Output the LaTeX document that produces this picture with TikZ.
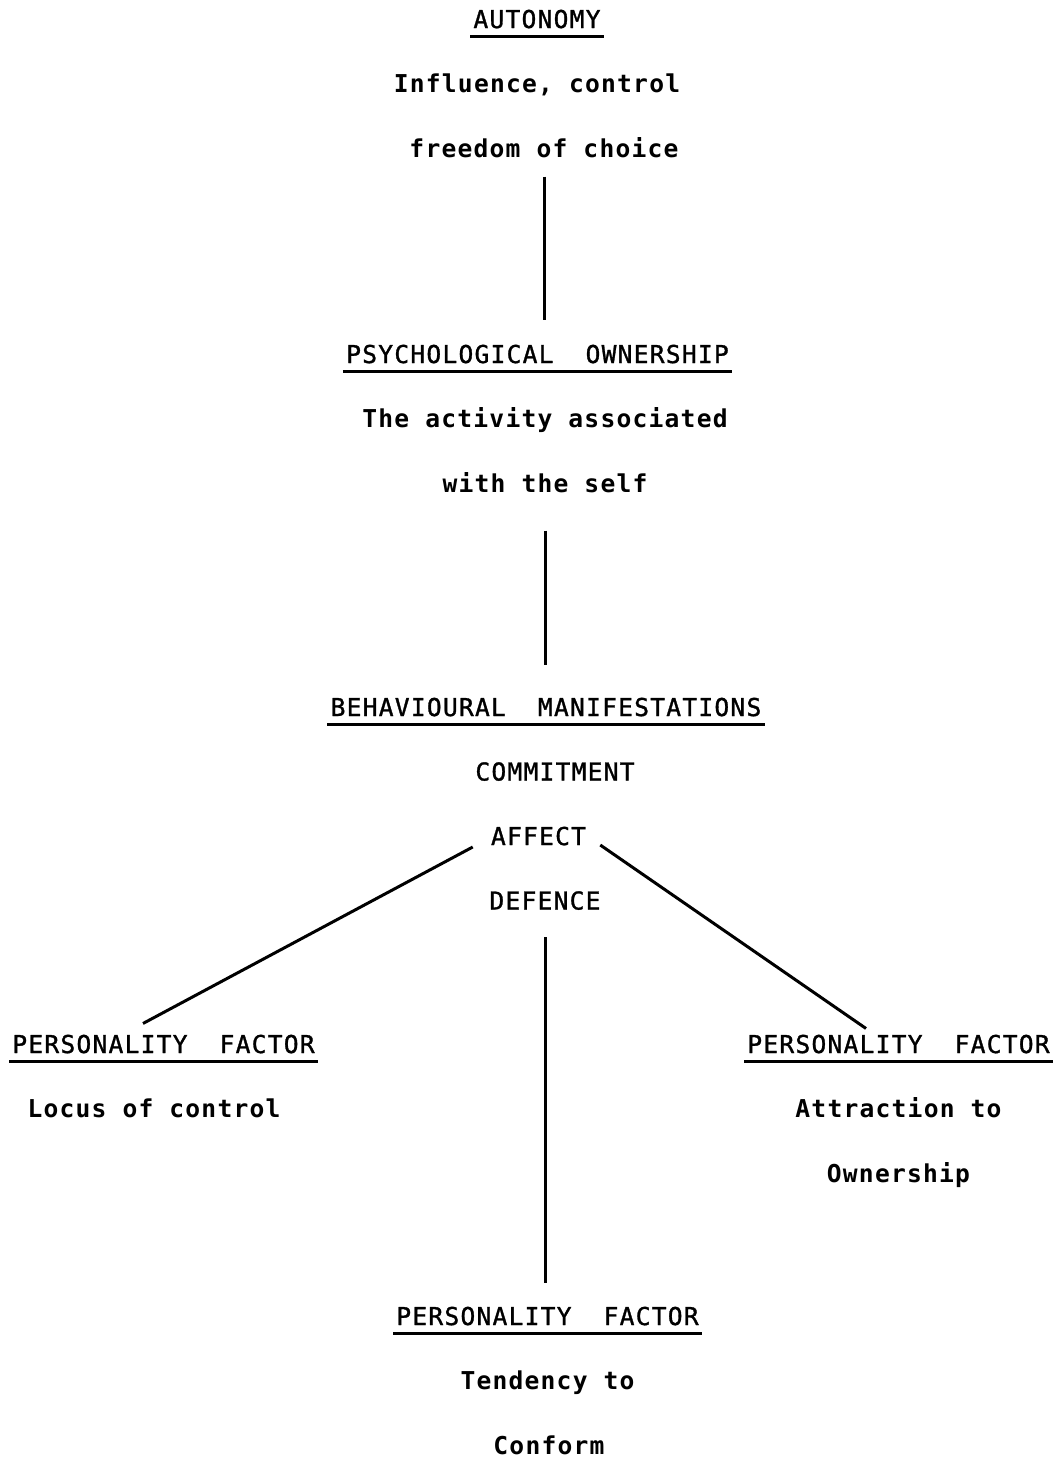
\documentclass[tikz,border=0pt]{standalone}
\usepackage{fontspec}
\newfontfamily\typefont{DejaVu Sans Mono}[LetterSpace=5]
\newfontfamily\capsfont{DejaVu Sans Mono}[LetterSpace=5, FakeBold=1.2]
\usetikzlibrary{positioning}

\begin{document}
\begin{tikzpicture}[
                        node distance=0.645cm,
                        line width=0.85pt,
                        caps/.style={font=\capsfont\fontsize{7}{8}\selectfont, text height=5.2pt, text depth=1.5pt, inner xsep=0.5pt, inner ysep=0.5pt},
                        lower/.style={caps, font=\typefont\fontsize{7}{8}\selectfont\bfseries}
                    ]
                    \useasboundingbox (0,0) rectangle (10.56,-14.58);
                    % Blocks
                    \node [caps] (auto) at (5.37,-0.215) {AUTONOMY};
                    \node [lower, below of=auto] (infl) {Influence, control};
                    \node [lower, below of=infl, xshift=0.7mm] (free) {freedom of choice};

                    \node [caps] (psych) at (5.375,-3.565) {PSYCHOLOGICAL~~OWNERSHIP};
                    \node [lower, below of=psych, xshift=0.75mm] (act) {The activity associated};
                    \node [lower, below of=act] (self) {with the self};

                    \node [caps] (behav) at (5.46,-7.095) {BEHAVIOURAL~~MANIFESTATIONS};
                    \node [caps, below of=behav, xshift=0.9mm] (commit) {COMMITMENT};
                    \node [caps, below of=commit, xshift=-1.65mm] (affect) {AFFECT};
                    \node [caps, below of=affect, xshift=0.65mm] (defence) {DEFENCE};

                    \node [caps] (pfl) at (1.635,-10.465) {PERSONALITY~~FACTOR};
                    \node [lower, below of=pfl, xshift=-0.95mm] (locus) {Locus of control};

                    \node [caps] (pfr) at (8.985,-10.465) {PERSONALITY~~FACTOR};
                    \node [lower, below of=pfr] (attr) {Attraction to};
                    \node [lower, below of=attr] (own) {Ownership};

                    \node [caps] (pfb) at (5.475,-13.185) {PERSONALITY~~FACTOR};
                    \node [lower, below of=pfb] (tend) {Tendency to};
                    \node [lower, below of=tend, xshift=0.15mm] (conf) {Conform};

                    % Connections
                    \draw [shorten <=1.1mm, shorten >=2.1mm] (free.south) -- (free.south |- psych.north);
                    \draw [shorten <=3mm, shorten >=2.9mm] (self.south) -- (self.south |- behav.north);
                    \draw ([xshift=-1.5mm,yshift=-0.85mm]affect.west) -- ([xshift=-2.05mm,yshift=0.8mm]pfl.north);
                    \draw ([xshift=1.1mm,yshift=-0.65mm]affect.east) -- ([xshift=-3.25mm,yshift=0.3mm]pfr.north);
                    \draw [shorten <=1.9mm, shorten >=2mm] (defence.south) -- (defence.south |- pfb.north);

                    % Underlines
                    \foreach \h in {auto,psych,behav,pfl,pfr,pfb}
                        \draw (\h.south west) -- (\h.south east);
                \end{tikzpicture}
\end{document}
